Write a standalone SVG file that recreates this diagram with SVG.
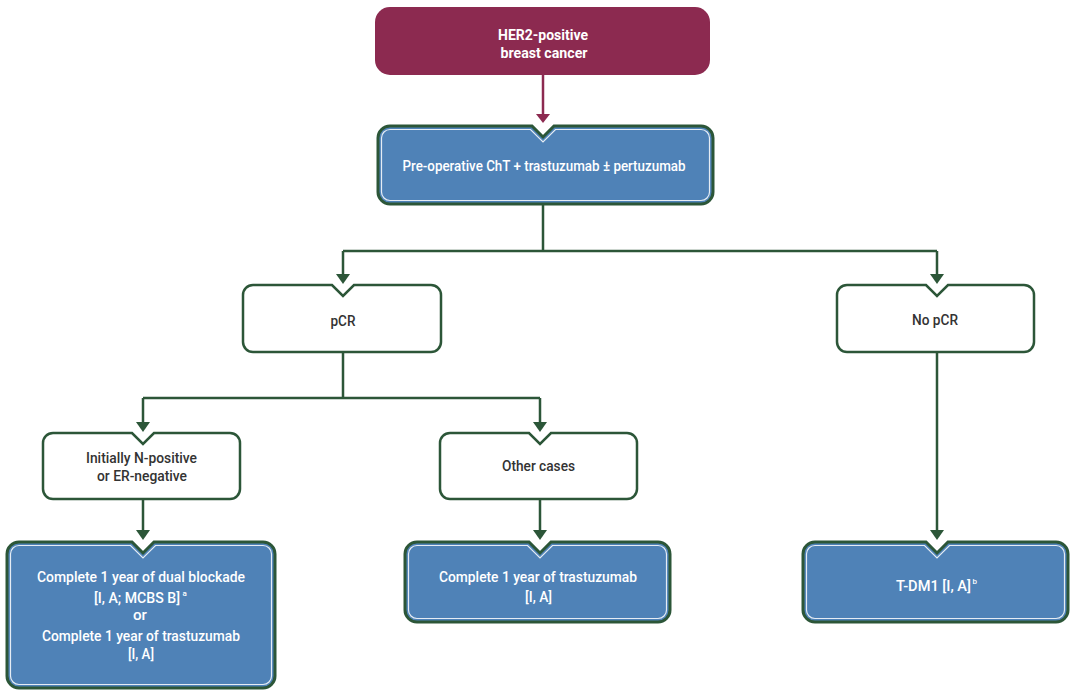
<svg xmlns="http://www.w3.org/2000/svg" width="1080" height="694" viewBox="0 0 1080 694">
<style>
.t{font-family:Roboto,"Liberation Sans",sans-serif;font-size:15px;font-weight:500;text-anchor:middle}
.w{fill:#ffffff}
.d{fill:#333333}
.b{font-weight:bold}
.sup{font-family:Roboto,"Liberation Sans",sans-serif;font-size:8px;font-weight:500;fill:#ffffff;text-anchor:start}
.blue{fill:#4F82B7;stroke:#2C5638;stroke-width:3}
.inner{fill:none;stroke:#ffffff;stroke-width:1.2;opacity:0.85}
.wbox{fill:#ffffff;stroke:#2C5638;stroke-width:2.5}
.conn{fill:none;stroke:#2C5638;stroke-width:2.5}
.ah{fill:#2C5638}
</style>
<rect width="1080" height="694" fill="#ffffff"/>
<g id="connectors">
<path d="M543,75 V116" fill="none" stroke="#8C2A50" stroke-width="2.5"/>
<polygon points="536,114 550,114 543,123" fill="#8C2A50"/>
<path class="conn" d="M543,204 V251 M343,251 H937 M343,251 V276 M937,251 V276"/>
<polygon class="ah" points="336,274 350,274 343,284"/>
<polygon class="ah" points="930,274 944,274 937,284"/>
<path class="conn" d="M343,352 V398 M143,398 H540 M143,398 V423 M540,398 V423"/>
<polygon class="ah" points="136,422 150,422 143,432"/>
<polygon class="ah" points="533,422 547,422 540,432"/>
<path class="conn" d="M143,499 V531 M540,499 V531 M937,352 V531"/>
<polygon class="ah" points="136,530 150,530 143,540"/>
<polygon class="ah" points="533,530 547,530 540,540"/>
<polygon class="ah" points="930,530 944,530 937,540"/>
</g>
<g id="her2">
<rect x="375" y="7" width="335" height="68" rx="15" fill="#8C2A50"/>
<text class="t w b" x="543" y="40" textLength="90" lengthAdjust="spacingAndGlyphs">HER2-positive</text>
<text class="t w b" x="544" y="58" textLength="87" lengthAdjust="spacingAndGlyphs">breast cancer</text>
</g>
<g id="preop">
<path class="blue" d="M390,126 H532 L543,137 L554,126 H701 A12,12 0 0 1 713,138 V192 A12,12 0 0 1 701,204 H390 A12,12 0 0 1 378,192 V138 A12,12 0 0 1 390,126 Z"/>
<path class="inner" d="M390,129.5 H530.5 L543,142 L555.5,129.5 H701 A8.5,8.5 0 0 1 709.5,138 V192 A8.5,8.5 0 0 1 701,200.5 H390 A8.5,8.5 0 0 1 381.5,192 V138 A8.5,8.5 0 0 1 390,129.5 Z"/>
<text class="t w" x="544" y="171" textLength="283" lengthAdjust="spacingAndGlyphs">Pre-operative ChT + trastuzumab ± pertuzumab</text>
</g>
<g id="pcr">
<path class="wbox" d="M253,285 H332 L343,296 L354,285 H431 A10,10 0 0 1 441,295 V342 A10,10 0 0 1 431,352 H253 A10,10 0 0 1 243,342 V295 A10,10 0 0 1 253,285 Z"/>
<text class="t d" x="343" y="326" textLength="25" lengthAdjust="spacingAndGlyphs">pCR</text>
</g>
<g id="nopcr">
<path class="wbox" d="M847,285 H926 L937,296 L948,285 H1024 A10,10 0 0 1 1034,295 V342 A10,10 0 0 1 1024,352 H847 A10,10 0 0 1 837,342 V295 A10,10 0 0 1 847,285 Z"/>
<text class="t d" x="935" y="325" textLength="46" lengthAdjust="spacingAndGlyphs">No pCR</text>
</g>
<g id="initially">
<path class="wbox" d="M53,433 H132 L143,444 L154,433 H230 A10,10 0 0 1 240,443 V489 A10,10 0 0 1 230,499 H53 A10,10 0 0 1 43,489 V443 A10,10 0 0 1 53,433 Z"/>
<text class="t d" x="141.5" y="463" textLength="111" lengthAdjust="spacingAndGlyphs">Initially N-positive</text>
<text class="t d" x="142" y="481" textLength="90" lengthAdjust="spacingAndGlyphs">or ER-negative</text>
</g>
<g id="other">
<path class="wbox" d="M450,433 H529 L540,444 L551,433 H627 A10,10 0 0 1 637,443 V489 A10,10 0 0 1 627,499 H450 A10,10 0 0 1 440,489 V443 A10,10 0 0 1 450,433 Z"/>
<text class="t d" x="538.5" y="471" textLength="73" lengthAdjust="spacingAndGlyphs">Other cases</text>
</g>
<g id="dual">
<path class="blue" d="M19,542 H132 L143,553 L154,542 H263 A12,12 0 0 1 275,554 V676 A12,12 0 0 1 263,688 H19 A12,12 0 0 1 7,676 V554 A12,12 0 0 1 19,542 Z"/>
<path class="inner" d="M19,545.5 H130.5 L143,558 L155.5,545.5 H263 A8.5,8.5 0 0 1 271.5,554 V676 A8.5,8.5 0 0 1 263,684.5 H19 A8.5,8.5 0 0 1 10.5,676 V554 A8.5,8.5 0 0 1 19,545.5 Z"/>
<text class="t w" x="141" y="582" textLength="208" lengthAdjust="spacingAndGlyphs">Complete 1 year of dual blockade</text>
<text class="t w" x="137" y="603" textLength="86" lengthAdjust="spacingAndGlyphs">[I, A; MCBS B]</text>
<text class="sup" x="182.5" y="596">a</text>
<text class="t w" x="140" y="620" textLength="14" lengthAdjust="spacingAndGlyphs">or</text>
<text class="t w" x="141" y="641" textLength="198" lengthAdjust="spacingAndGlyphs">Complete 1 year of trastuzumab</text>
<text class="t w" x="141" y="659" textLength="26" lengthAdjust="spacingAndGlyphs">[I, A]</text>
</g>
<g id="trastuzumab">
<path class="blue" d="M417,542 H529 L540,553 L551,542 H658 A12,12 0 0 1 670,554 V610 A12,12 0 0 1 658,622 H417 A12,12 0 0 1 405,610 V554 A12,12 0 0 1 417,542 Z"/>
<path class="inner" d="M417,545.5 H527.5 L540,558 L552.5,545.5 H658 A8.5,8.5 0 0 1 666.5,554 V610 A8.5,8.5 0 0 1 658,618.5 H417 A8.5,8.5 0 0 1 408.5,610 V554 A8.5,8.5 0 0 1 417,545.5 Z"/>
<text class="t w" x="538" y="582" textLength="198" lengthAdjust="spacingAndGlyphs">Complete 1 year of trastuzumab</text>
<text class="t w" x="538.5" y="602" textLength="27" lengthAdjust="spacingAndGlyphs">[I, A]</text>
</g>
<g id="tdm1">
<path class="blue" d="M815,542 H926 L937,553 L948,542 H1056 A12,12 0 0 1 1068,554 V610 A12,12 0 0 1 1056,622 H815 A12,12 0 0 1 803,610 V554 A12,12 0 0 1 815,542 Z"/>
<path class="inner" d="M815,545.5 H924.5 L937,558 L949.5,545.5 H1056 A8.5,8.5 0 0 1 1064.5,554 V610 A8.5,8.5 0 0 1 1056,618.5 H815 A8.5,8.5 0 0 1 806.5,610 V554 A8.5,8.5 0 0 1 815,545.5 Z"/>
<text class="t w" x="933.5" y="591" textLength="75" lengthAdjust="spacingAndGlyphs">T-DM1 [I, A]</text>
<text class="sup" x="972.5" y="584">b</text>
</g>
</svg>
